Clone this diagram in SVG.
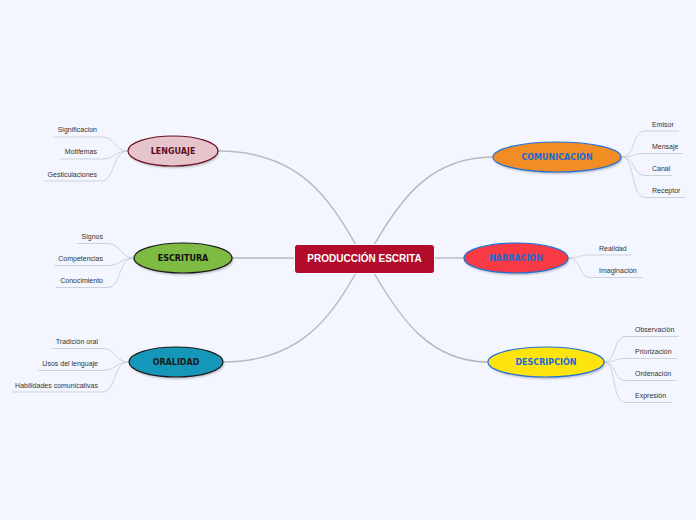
<svg xmlns="http://www.w3.org/2000/svg" width="696" height="520" viewBox="0 0 696 520">
<style>
.bg{fill:#f3f6fe}
.main{fill:none;stroke:#b5b9c4;stroke-width:1.4}
.sub{fill:none;stroke:#cdd1da;stroke-width:1}
.leaf{font-family:"Liberation Sans",Arial,sans-serif;font-size:7px;fill:#333}
.nl{font-family:"DejaVu Sans",Verdana,sans-serif;font-size:8px;font-weight:bold;text-anchor:middle}
.sh{fill:#000;opacity:0.25}
</style>
<defs>
<filter id="blur" x="-20%" y="-50%" width="140%" height="200%"><feGaussianBlur stdDeviation="1.2"/></filter>
</defs>
<rect class="bg" x="0" y="0" width="696" height="520"/>
<g id="connectors">
<path class="main" d="M218,151 C300,151 330,200 356,245"/>
<path class="main" d="M232,258 L295,258"/>
<path class="main" d="M222,362 C300,362 330,318 356,273"/>
<path class="main" d="M493,157 C430,157 400,200 374,245"/>
<path class="main" d="M434,258 L464,258"/>
<path class="main" d="M488,362 C430,362 400,318 374,273"/>
<!-- LENGUAJE children -->
<path class="sub" d="M53,137 H102 C115,137 115,151 128,151"/>
<path class="sub" d="M60,159 H102 C115,159 115,151 128,151"/>
<path class="sub" d="M44,181 H102 C115,181 112,151 128,151"/>
<!-- ESCRITURA -->
<path class="sub" d="M77,243.5 H108 C121,243.5 120,258 134,258"/>
<path class="sub" d="M54,265.5 H108 C121,265.5 120,258 134,258"/>
<path class="sub" d="M56,287.5 H108 C121,287.5 118,258 134,258"/>
<!-- ORALIDAD -->
<path class="sub" d="M52,348.5 H103 C116,348.5 115,362 129,362"/>
<path class="sub" d="M38,370.5 H103 C116,370.5 115,362 129,362"/>
<path class="sub" d="M12,392 H103 C116,392 113,362 129,362"/>
<!-- COMUNICACION -->
<path class="sub" d="M621,157 C636,157 632,131 645,131 H679"/>
<path class="sub" d="M621,157 C636,157 632,153.5 645,153.5 H683"/>
<path class="sub" d="M621,157 C636,157 632,175.5 645,175.5 H672"/>
<path class="sub" d="M621,157 C636,157 630,197.5 645,197.5 H685"/>
<!-- NARRACION -->
<path class="sub" d="M568,258 C582,258 578,255 590,255 H631"/>
<path class="sub" d="M568,258 C582,258 578,277.5 590,277.5 H643"/>
<!-- DESCRIPCION -->
<path class="sub" d="M603,362 C618,362 612,336.5 626,336.5 H679"/>
<path class="sub" d="M603,362 C618,362 612,358.5 626,358.5 H677"/>
<path class="sub" d="M603,362 C618,362 612,380.5 626,380.5 H676"/>
<path class="sub" d="M603,362 C618,362 610,402.5 626,402.5 H672"/>
</g>
<g id="central">
<rect x="294.5" y="244.5" width="140" height="29" rx="3" fill="#b10c2b" stroke="#ffffff" stroke-width="1"/>
<text x="364.5" y="262" text-anchor="middle" font-family="'Liberation Sans',Arial,sans-serif" font-size="10px" font-weight="bold" fill="#ffffff">PRODUCCIÓN ESCRITA</text>
</g>
<g id="lenguaje">
<ellipse class="sh" cx="174" cy="153" rx="45" ry="15" filter="url(#blur)"/>
<ellipse cx="173" cy="151" rx="45" ry="15" fill="#e6c4cc" stroke="#6a0f22" stroke-width="1.2"/>
<text class="nl" x="173" y="154" fill="#5c0f1f">LENGUAJE</text>
<text class="leaf" x="97" y="132" text-anchor="end">Significacion</text>
<text class="leaf" x="97" y="154" text-anchor="end">Motifemas</text>
<text class="leaf" x="97" y="177" text-anchor="end">Gesticulaciones</text>
</g>
<g id="escritura">
<ellipse class="sh" cx="184" cy="260" rx="49" ry="15" filter="url(#blur)"/>
<ellipse cx="183" cy="258" rx="49" ry="15" fill="#7dbb42" stroke="#1a1a1a" stroke-width="1.2"/>
<text class="nl" x="183" y="261" fill="#111">ESCRITURA</text>
<text class="leaf" x="103" y="239" text-anchor="end">Signos</text>
<text class="leaf" x="103" y="261" text-anchor="end">Competencias</text>
<text class="leaf" x="103" y="283" text-anchor="end">Conocimiento</text>
</g>
<g id="oralidad">
<ellipse class="sh" cx="177" cy="364" rx="47" ry="15" filter="url(#blur)"/>
<ellipse cx="176" cy="362" rx="47" ry="15" fill="#1497b9" stroke="#1a1a1a" stroke-width="1.2"/>
<text class="nl" x="176" y="365" fill="#1a1a1a">ORALIDAD</text>
<text class="leaf" x="98" y="344" text-anchor="end">Tradición oral</text>
<text class="leaf" x="98" y="366" text-anchor="end">Usos del lenguaje</text>
<text class="leaf" x="98" y="388" text-anchor="end">Habilidades comunicativas</text>
</g>
<g id="comunicacion">
<ellipse class="sh" cx="558" cy="159" rx="64" ry="15" filter="url(#blur)"/>
<ellipse cx="557" cy="157" rx="64" ry="15" fill="#f28c24" stroke="#1f6fd6" stroke-width="1.2"/>
<text class="nl" x="557" y="160" fill="#1a6bd1">COMUNICACIÓN</text>
<text class="leaf" x="652" y="127">Emisor</text>
<text class="leaf" x="652" y="149">Mensaje</text>
<text class="leaf" x="652" y="171">Canal</text>
<text class="leaf" x="652" y="193">Receptor</text>
</g>
<g id="narracion">
<ellipse class="sh" cx="517" cy="260" rx="52" ry="15" filter="url(#blur)"/>
<ellipse cx="516" cy="258" rx="52" ry="15" fill="#f83a44" stroke="#1f6fd6" stroke-width="1.2"/>
<text class="nl" x="516" y="261" fill="#1a6bd1">NARRACIÓN</text>
<text class="leaf" x="599" y="251">Realidad</text>
<text class="leaf" x="599" y="273">Imaginación</text>
</g>
<g id="descripcion">
<ellipse class="sh" cx="547" cy="364" rx="58" ry="15" filter="url(#blur)"/>
<ellipse cx="546" cy="362" rx="58" ry="15" fill="#fde40f" stroke="#1f6fd6" stroke-width="1.2"/>
<text class="nl" x="546" y="365" fill="#1a6bd1">DESCRIPCIÓN</text>
<text class="leaf" x="635" y="332">Observación</text>
<text class="leaf" x="635" y="354">Priorización</text>
<text class="leaf" x="635" y="376">Ordenación</text>
<text class="leaf" x="635" y="398">Expresión</text>
</g>
</svg>
